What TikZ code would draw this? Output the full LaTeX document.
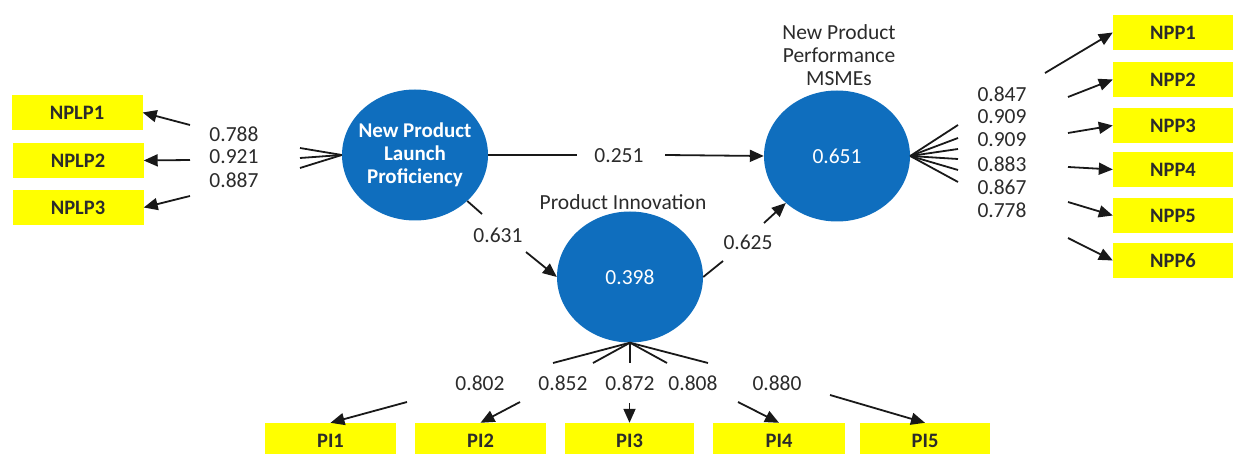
\documentclass[tikz,border=0pt]{standalone}
\usepackage{fontspec}
\setmainfont{Carlito}
\usetikzlibrary{shapes.geometric,arrows.meta}
\definecolor{latentblue}{HTML}{0F6EBE}
\definecolor{indyellow}{HTML}{FFFF00}
\definecolor{txtgray}{HTML}{2B2B2B}
\tikzset{
  latent/.style={ellipse, fill=latentblue, minimum width=146pt, minimum height=131pt, inner sep=0pt, text=white, align=center, font=\fontsize{21.5}{23}\selectfont},
  ind/.style={rectangle, fill=indyellow, minimum height=35pt, inner sep=0pt, text=txtgray, font=\fontsize{20.5}{23}\selectfont\bfseries},
  lbl/.style={inner sep=0pt, text=txtgray, align=center, font=\fontsize{21.5}{23}\selectfont},
  intext/.style={inner sep=0pt, text=white, align=center, font=\fontsize{21}{23}\selectfont\bfseries},
  ln/.style={line width=1.8pt, draw=black!90},
  arr/.style={ln, -{Triangle[length=14pt,width=12pt]}},
}
\begin{document}
\begin{tikzpicture}[x=1pt,y=-1pt]
\useasboundingbox (0,0) rectangle (1237,454);
% latent variables
\node[latent, label={[intext]center:{New Product\\Launch\\Proficiency}}] (c1) at (415,155) {};
\node[latent] (c2) at (630,277) {0.398};
\node[latent] (c3) at (837,156) {0.651};
\node[lbl] (t2) at (623,202) {Product Innovation};
\node[lbl] (t3) at (839,55) {New Product\\Performance\\MSMEs};
% indicators
\node[ind, minimum width=131pt] (nplp1) at (77,112.5) {NPLP1};
\node[ind, minimum width=131pt] (nplp2) at (78,160.5) {NPLP2};
\node[ind, minimum width=131pt] (nplp3) at (78,207.5) {NPLP3};
\node[ind, minimum width=120pt] (npp1) at (1173,32.5) {NPP1};
\node[ind, minimum width=120pt] (npp2) at (1173,79.5) {NPP2};
\node[ind, minimum width=120pt] (npp3) at (1173,125.5) {NPP3};
\node[ind, minimum width=120pt] (npp4) at (1173,169.5) {NPP4};
\node[ind, minimum width=120pt] (npp5) at (1173,215.5) {NPP5};
\node[ind, minimum width=120pt] (npp6) at (1173,260.5) {NPP6};
\node[ind, minimum width=131pt] (pi1) at (330.5,440.5) {PI1};
\node[ind, minimum width=131pt] (pi2) at (480.5,440.5) {PI2};
\node[ind, minimum width=129pt] (pi3) at (629.5,440.5) {PI3};
\node[ind, minimum width=132pt] (pi4) at (779,440.5) {PI4};
\node[ind, minimum width=130pt] (pi5) at (925,440.5) {PI5};
% labels
\node[lbl] (l1a) at (234,134) {0.788};
\node[lbl] (l1b) at (234,157) {0.921};
\node[lbl] (l1c) at (234,180) {0.887};
\node[lbl] (l251) at (619,156) {0.251};
\node[lbl] (l631) at (498,235) {0.631};
\node[lbl] (l625) at (748,242) {0.625};
\node[lbl] (n1) at (1002,94) {0.847};
\node[lbl] (n2) at (1002,117) {0.909};
\node[lbl] (n3) at (1002,140) {0.909};
\node[lbl] (n4) at (1002,164) {0.883};
\node[lbl] (n5) at (1002,187) {0.867};
\node[lbl] (n6) at (1002,210) {0.778};
\node[lbl] (p1) at (480,383) {0.802};
\node[lbl] (p2) at (563,383) {0.852};
\node[lbl] (p3) at (630,383) {0.872};
\node[lbl] (p4) at (693,383) {0.808};
\node[lbl] (p5) at (777,383) {0.880};
% coordinates (broken connector ends)
\coordinate (f1a) at (300,148);
\coordinate (f1b) at (300,158);
\coordinate (f1c) at (300,168);
\coordinate (a1a) at (190,125);
\coordinate (a1b) at (190,160);
\coordinate (a1c) at (190,196);
\coordinate (h1) at (577,155);
\coordinate (h2) at (665,155);
\coordinate (d1) at (482,214);
\coordinate (d2) at (526,252);
\coordinate (e1) at (723,261);
\coordinate (e2) at (764,223);
\coordinate (g1) at (958,125);
\coordinate (g2) at (958,138);
\coordinate (g3) at (958,149);
\coordinate (g4) at (958,159);
\coordinate (g5) at (958,170);
\coordinate (g6) at (958,182);
\coordinate (b1) at (1045,73);
\coordinate (b2) at (1068,97);
\coordinate (b3) at (1068,133);
\coordinate (b4) at (1068,167);
\coordinate (b5) at (1068,202);
\coordinate (b6) at (1068,238);
\coordinate (k1) at (553,363);
\coordinate (k2) at (593,363);
\coordinate (k3) at (630,363);
\coordinate (k4) at (667,363);
\coordinate (k5) at (708,363);
\coordinate (m1) at (407,402);
\coordinate (m2) at (520,402);
\coordinate (m3) at (629.5,403);
\coordinate (m4) at (738,402);
\coordinate (m5) at (830,395);
% NPLP connectors
\draw[ln] (c1.west) -- (f1a);
\draw[ln] (c1.west) -- (f1b);
\draw[ln] (c1.west) -- (f1c);
\draw[arr] (a1a) -- (nplp1.east);
\draw[arr] (a1b) -- (nplp2.east);
\draw[arr] (a1c) -- (nplp3.east);
% structural paths
\draw[ln] (c1.east) -- (h1);
\draw[arr] (h2) -- (c3.west);
\draw[ln] (c1) -- (d1);
\draw[arr] (d2) -- (c2.west);
\draw[ln] (c2.east) -- (e1);
\draw[arr] (e2) -- (c3);
% NPP connectors
\foreach \i in {1,...,6} {
  \draw[ln] (c3.east) -- (g\i);
  \draw[arr] (b\i) -- (npp\i.west);
}
% PI connectors
\foreach \i in {1,...,5} {
  \draw[ln] (c2.south) -- (k\i);
  \draw[arr] (m\i) -- (pi\i.north);
}
\end{tikzpicture}
\end{document}
